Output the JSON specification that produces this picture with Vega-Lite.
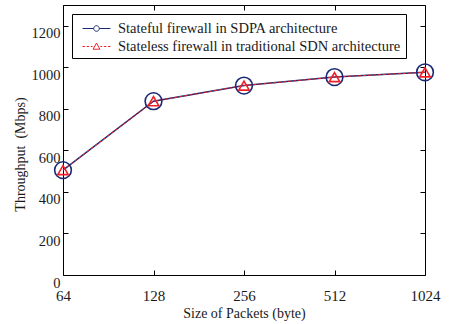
{
  "$schema": "https://vega.github.io/schema/vega-lite/v6.json",
  "width": 362,
  "height": 270,
  "autosize": {"type": "none"},
  "padding": {"left": 63, "top": 5, "right": 29, "bottom": 49},
  "background": "white",
  "config": {
    "view": {"stroke": "black", "strokeWidth": 1},
    "font": "Liberation Serif",
    "axis": {
      "labelFont": "Liberation Serif",
      "titleFont": "Liberation Serif",
      "labelColor": "#1a1a1a",
      "titleColor": "#1a1a1a",
      "titleFontWeight": "normal",
      "tickColor": "black",
      "grid": false,
      "domain": false
    },
    "legend": {
      "orient": "top-left",
      "offset": 9,
      "strokeColor": "black",
      "fillColor": "white",
      "padding": 5,
      "symbolSize": 324,
      "symbolOffset": 10,
      "labelOffset": 12,
      "labelFont": "Liberation Serif",
      "labelFontSize": 14.5,
      "labelColor": "#1a1a1a",
      "rowPadding": 2,
      "symbolStrokeWidth": 1,
      "symbolFillColor": "transparent",
      "labelLimit": 400
    }
  },
  "data": {
    "values": [
      {"size": "64", "series": "Stateful firewall in SDPA architecture", "tp": 505},
      {"size": "128", "series": "Stateful firewall in SDPA architecture", "tp": 837},
      {"size": "256", "series": "Stateful firewall in SDPA architecture", "tp": 912},
      {"size": "512", "series": "Stateful firewall in SDPA architecture", "tp": 953},
      {"size": "1024", "series": "Stateful firewall in SDPA architecture", "tp": 976},
      {"size": "64", "series": "Stateless firewall in traditional SDN architecture", "tp": 505},
      {"size": "128", "series": "Stateless firewall in traditional SDN architecture", "tp": 837},
      {"size": "256", "series": "Stateless firewall in traditional SDN architecture", "tp": 912},
      {"size": "512", "series": "Stateless firewall in traditional SDN architecture", "tp": 953},
      {"size": "1024", "series": "Stateless firewall in traditional SDN architecture", "tp": 976}
    ]
  },
  "layer": [
    {
      "transform": [{"filter": "datum.series == 'Stateful firewall in SDPA architecture'"}],
      "mark": {"type": "line", "color": "#1a2a72", "strokeWidth": 1.5},
      "encoding": {
        "x": {
          "field": "size", "type": "ordinal",
          "sort": ["64", "128", "256", "512", "1024"],
          "scale": {"type": "point", "padding": 0, "domain": ["64", "128", "256", "512", "1024"]},
          "axis": {
            "title": "Size of Packets (byte)",
            "titleFontSize": 14,
            "titleX": 181,
            "titleY": 38,
            "titleBaseline": "middle",
            "labelFontSize": 15,
            "labelAngle": 0,
            "labelBaseline": "middle",
            "labelPadding": 25,
            "tickSize": -5
          }
        },
        "y": {
          "field": "tp", "type": "quantitative",
          "scale": {"domain": [0, 1300], "nice": false},
          "axis": {
            "title": "Throughput\u00a0\u00a0(Mbps)",
            "titleFontSize": 14,
            "titleX": -43,
            "titleY": 149,
            "titleBaseline": "middle",
            "values": [0, 200, 400, 600, 800, 1000, 1200],
            "format": "d",
            "labelFontSize": 14.5,
            "labelOffset": 8,
            "labelPadding": 8,
            "tickSize": -5
          }
        }
      }
    },
    {
      "transform": [{"filter": "datum.series == 'Stateless firewall in traditional SDN architecture'"}],
      "mark": {"type": "line", "color": "#f0202a", "strokeWidth": 1, "strokeDash": [3, 2]},
      "encoding": {
        "x": {"field": "size", "type": "ordinal", "sort": ["64", "128", "256", "512", "1024"], "axis": null},
        "y": {"field": "tp", "type": "quantitative", "axis": null}
      }
    },
    {
      "transform": [{"filter": "datum.series == 'Stateful firewall in SDPA architecture'"}],
      "mark": {"type": "point", "shape": "circle", "filled": false, "color": "#1a2a72", "strokeWidth": 1.6, "size": 280, "opacity": 1},
      "encoding": {
        "x": {"field": "size", "type": "ordinal", "sort": ["64", "128", "256", "512", "1024"], "axis": null},
        "y": {"field": "tp", "type": "quantitative", "axis": null}
      }
    },
    {
      "transform": [{"filter": "datum.series == 'Stateless firewall in traditional SDN architecture'"}],
      "mark": {"type": "point", "shape": "triangle-up", "filled": false, "color": "#f0202a", "strokeWidth": 1.6, "size": 110, "opacity": 1},
      "encoding": {
        "x": {"field": "size", "type": "ordinal", "sort": ["64", "128", "256", "512", "1024"], "axis": null},
        "y": {"field": "tp", "type": "quantitative", "axis": null}
      }
    },
    {
      "transform": [{"filter": "datum.tp < 0"}],
      "mark": {"type": "point", "filled": false, "strokeWidth": 1, "opacity": 1},
      "encoding": {
        "x": {
          "field": "size", "type": "ordinal", "sort": ["64", "128", "256", "512", "1024"],
          "axis": {"orient": "top", "labels": false, "title": null, "tickSize": -5}
        },
        "y": {
          "field": "tp", "type": "quantitative",
          "axis": {"orient": "right", "labels": false, "title": null, "tickSize": -5, "values": [0, 200, 400, 600, 800, 1000, 1200]}
        },
        "color": {
          "field": "series", "type": "nominal",
          "scale": {
            "domain": ["Stateful firewall in SDPA architecture", "Stateless firewall in traditional SDN architecture"],
            "range": ["#1a2a72", "#f0202a"]
          },
          "legend": {"title": null, "labelFont": "Liberation Serif", "labelFontSize": 14.5}
        },
        "shape": {
          "field": "series", "type": "nominal",
          "scale": {
            "domain": ["Stateful firewall in SDPA architecture", "Stateless firewall in traditional SDN architecture"],
            "range": [
              "M-1.55,0H-0.31M0.31,0H1.55M0.31,0A0.31,0.31 0 1,1 -0.31,0A0.31,0.31 0 1,1 0.31,0",
              "M-1.55,0H-1.28M-1.09,0H-0.82M-0.63,0H-0.43M0.43,0H0.63M0.82,0H1.09M1.28,0H1.55M0,-0.38L0.38,0.3L-0.38,0.3Z"
            ]
          },
          "legend": {"title": null, "labelFont": "Liberation Serif", "labelFontSize": 14.5}
        }
      }
    }
  ],
  "resolve": {"axis": {"x": "independent", "y": "independent"}}
}
